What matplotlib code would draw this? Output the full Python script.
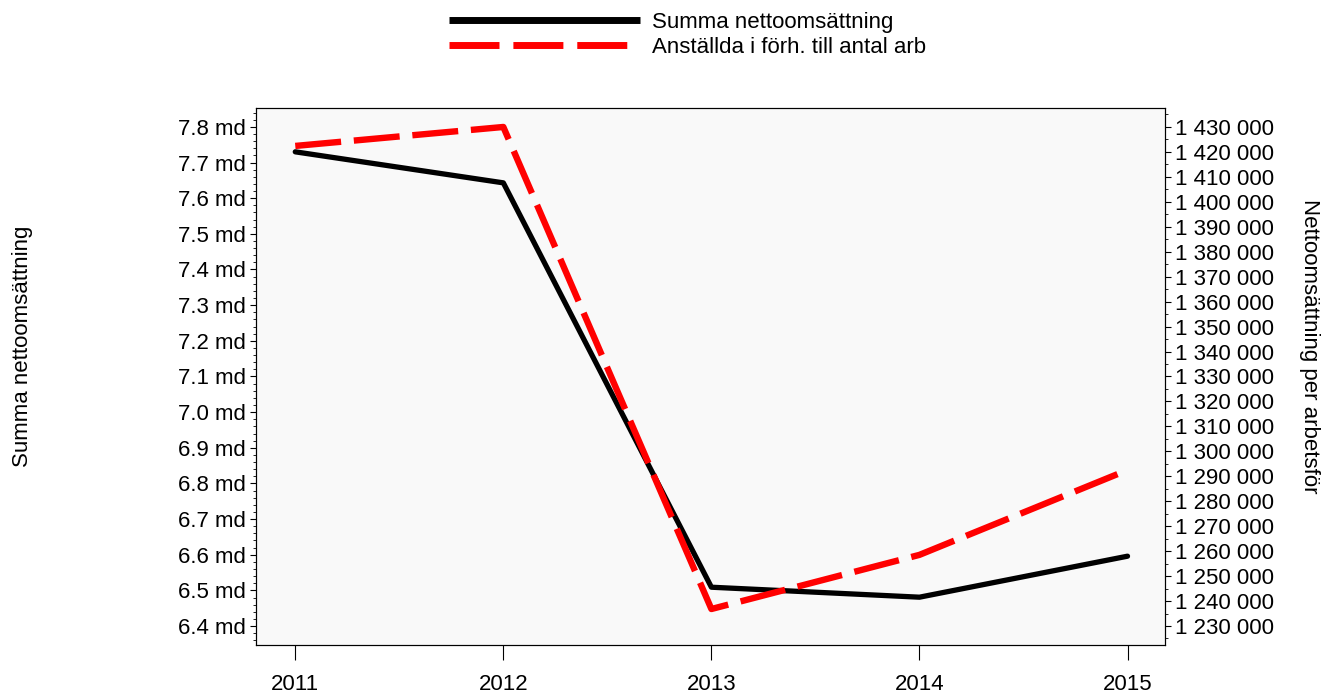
import matplotlib
matplotlib.use("Agg")
import matplotlib.pyplot as plt
from matplotlib.ticker import MultipleLocator, FuncFormatter

plt.rcParams['font.family'] = ['Liberation Sans', 'DejaVu Sans']

years = [2011, 2012, 2013, 2014, 2015]
# Summa nettoomsättning (md kr)
omsattning = [7.73, 7.643, 6.509, 6.481, 6.596]
# Nettoomsättning per arbetsför
per_arb = [1422400, 1430000, 1236800, 1258500, 1292500]

fig = plt.figure(figsize=(13.32, 6.93), dpi=100)
ax = fig.add_axes([0.192, 0.0693, 0.6826, 0.7749])
ax2 = ax.twinx()

ax.set_facecolor('#f9f9f9')
l1, = ax.plot(years, omsattning, color='black', lw=3.8,
              solid_capstyle='round', label='Summa nettoomsättning')
l2, = ax2.plot(years, per_arb, color='#ff0000', lw=4.6,
               dashes=(7.2, 2.0), label='Anställda i förh. till antal arb')

ax.set_xlim(2010.81, 2015.18)
ax.set_ylim(6.347, 7.853)
ax2.set_ylim(1222385, 1437615)

ax.set_xticks(years)
ax.yaxis.set_major_locator(MultipleLocator(0.1))
ax.yaxis.set_minor_locator(MultipleLocator(0.02))
ax.yaxis.set_major_formatter(FuncFormatter(lambda v, p: f"{v:.1f} md"))
ax2.yaxis.set_major_locator(MultipleLocator(10000))
ax2.yaxis.set_minor_locator(MultipleLocator(5000))
ax2.yaxis.set_major_formatter(
    FuncFormatter(lambda v, p: f"{int(round(v)):,}".replace(",", " ")))

fs = 16
ax.tick_params(axis='y', which='major', length=4, labelsize=fs, pad=3)
ax.tick_params(axis='y', which='minor', length=2)
ax.tick_params(axis='x', length=11, labelsize=fs, pad=10)
ax2.tick_params(axis='y', which='major', length=4, labelsize=fs, pad=3)
ax2.tick_params(axis='y', which='minor', length=2)

fig.text(0.017, 0.5, 'Summa nettoomsättning', rotation=90,
         va='center', ha='center', fontsize=fs)
fig.text(0.983, 0.5, 'Nettoomsättning per arbetsför', rotation=-90,
         va='center', ha='center', fontsize=fs)

leg = fig.legend(handles=[l1, l2], loc='upper center',
                 bbox_to_anchor=(0.516, 1.012), frameon=False, fontsize=fs,
                 handlelength=8.6, handletextpad=0.55, labelspacing=0.2)
for h in leg.legend_handles:
    h.set_linewidth(5)
    h.set_solid_capstyle('butt')

fig.savefig('out.png', dpi=100)
